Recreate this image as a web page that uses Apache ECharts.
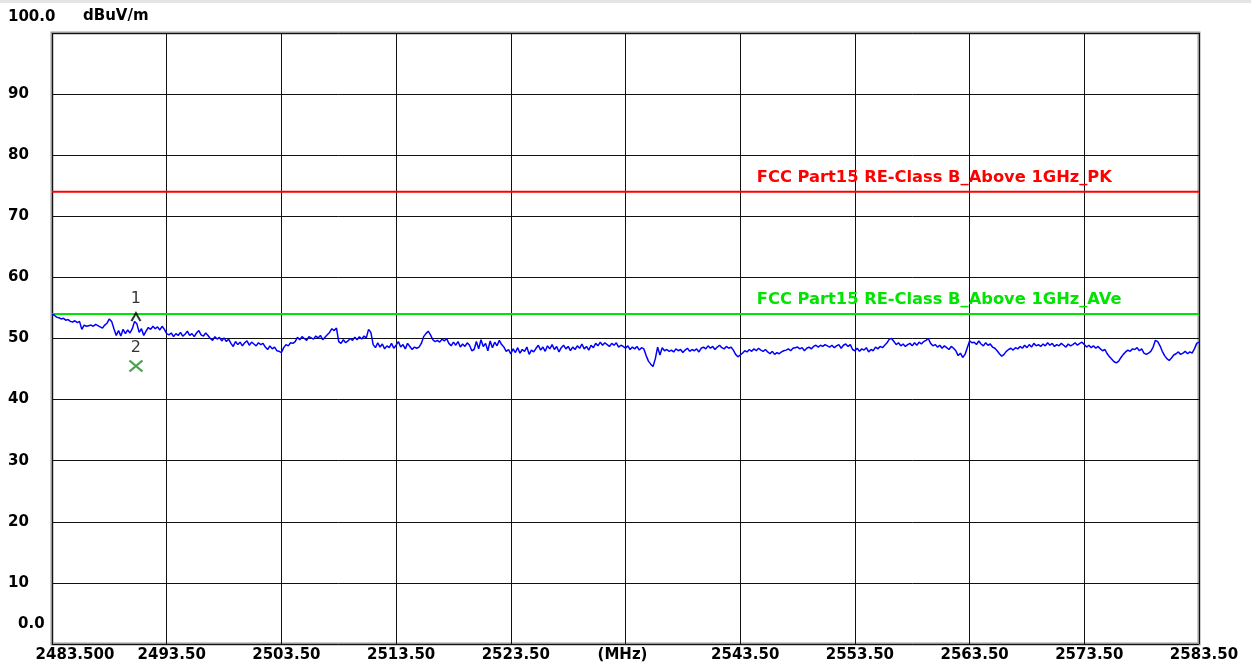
<!DOCTYPE html>
<html>
<head>
<meta charset="utf-8">
<script src="https://cdn.jsdelivr.net/npm/echarts@6/dist/echarts.min.js"></script>
<style>
  html, body { margin: 0; padding: 0; background: #ffffff; }
  #chart { width: 1251px; height: 668px; }
</style>
</head>
<body>
<div id="chart"></div>
<script>
// Sweep: 2483.5 MHz to 2583.5 MHz, one reading every 0.2 MHz (501 readings)
const FREQ_START = 2483.5;
const FREQ_STEP = 0.2;

// Measured field strength (dBuV/m), one value per sweep step
const traceLevels = [
  // 2483.5 - 2516.3 MHz
  54.0, 53.8, 53.5, 53.4, 53.2, 53.3, 53.0, 53.1, 52.8,
  52.7, 52.9, 52.6, 52.8, 51.5,
  52.2, 52.0, 52.1, 52.2, 52.0, 52.3, 52.1, 51.9, 51.7, 52.2,
  52.5, 53.2, 52.8, 51.6, 50.5, 51.3, 50.4,
  51.5, 50.8, 51.4, 50.9, 51.6, 52.8, 52.4,
  51.0, 51.6, 50.5, 51.2,
  51.8, 51.5, 52.0, 51.6, 51.9, 51.4, 52.0, 51.5, 50.8,
  50.6, 50.9, 50.3, 50.8, 50.5, 51.0, 50.4, 50.7, 51.2, 50.5, 50.8, 50.3, 50.9, 51.3, 50.6, 50.4, 50.9, 50.5,
  50.0, 49.7, 50.3, 49.9, 50.2, 49.6, 50.1, 49.5, 49.9,
  49.2, 48.7, 49.5, 49.0, 49.4, 48.8, 49.3, 49.6, 48.9, 49.4, 49.1, 48.8, 49.3, 49.0, 49.2,
  48.6, 48.2, 48.8, 48.3, 48.6, 48.0, 47.9, 47.7,
  48.5, 49.0, 48.8, 49.3, 49.2, 49.5,
  50.2, 49.8, 50.3, 50.0, 49.7, 50.3, 50.1, 49.9, 50.4, 50.1, 50.5, 49.8, 50.2, 50.6, 51.0,
  51.6, 51.3, 51.7, 49.5, 49.2, 49.8, 49.3, 49.6,
  50.0, 49.7, 50.2, 49.8, 50.3, 49.9, 50.4, 50.1, 51.5, 51.0,
  49.0, 48.5, 49.3, 48.6, 49.1, 48.3, 48.8, 48.5,
  49.2, 48.4, 48.9, 49.5, 48.6, 49.0, 48.3, 49.2, 48.7, 48.2, 48.6,
  48.4, 48.6, 49.2, 50.3, 50.8, 51.2,
  // 2516.5 - 2549.5 MHz
  50.6, 49.8, 49.5, 49.7, 49.4, 49.9, 49.6, 50.0,
  49.2, 48.8, 49.4, 48.9, 49.5, 48.6, 49.1, 48.7, 49.3, 48.9,
  48.0, 48.2,
  49.5, 48.3, 49.8, 48.7, 49.2, 48.0, 49.6, 48.5, 49.4, 48.8, 49.7, 49.0,
  48.6, 47.9, 48.2,
  47.5, 48.3, 47.7, 48.5, 47.6, 48.2, 47.9, 48.6, 47.4, 48.1, 47.8, 48.4,
  48.9, 48.1, 48.6, 47.9, 48.8, 48.3, 49.0, 48.2, 48.7, 47.8, 48.5, 48.9, 48.3,
  48.7, 48.0, 48.6, 48.2, 48.8, 48.4, 49.1, 48.3, 48.7, 48.1, 48.9, 48.5,
  49.2, 48.8, 49.4, 48.9, 49.3, 49.0, 48.7, 49.2, 48.9, 49.3, 48.6, 48.9,
  48.7, 48.4, 48.8, 48.2, 48.6, 48.3, 48.7, 48.1, 48.5, 48.3,
  47.2, 46.3, 45.8, 45.4, 46.7, 48.6, 47.3, 48.5,
  48.0, 48.2, 47.9, 48.1, 47.8, 48.3, 48.0, 48.2, 47.7, 48.1, 48.4, 47.9, 48.2, 48.0, 48.3, 47.8, 48.4,
  48.6, 48.3, 48.8, 48.4, 48.7, 48.2, 48.6, 48.9, 48.5, 48.3, 48.7, 48.4, 48.6, 48.1,
  47.4, 47.0, 47.3,
  47.6, 48.0, 47.8, 48.2, 47.9, 48.3, 48.0, 48.4, 48.1, 47.9, 48.2,
  47.8, 47.5, 47.9, 47.4, 47.7, 47.5, 47.8, 48.0,
  48.1, 48.3, 48.0, 48.4, 48.5, 48.6, 48.3, 48.5, 48.0, 48.4, 48.6,
  // 2549.7 - 2583.5 MHz
  48.3, 48.7, 48.9, 48.6, 48.9, 48.7, 49.0, 48.8, 48.6, 48.9, 48.5, 48.8, 49.0, 48.4, 48.9, 49.1, 48.7, 49.0,
  48.2, 48.0, 48.4, 47.9, 48.3, 48.1, 48.5, 47.8, 48.2, 48.0, 48.6, 48.3, 48.7, 48.5, 48.9,
  49.3, 49.9, 50.0,
  49.5, 49.0, 49.3, 48.8, 49.1, 48.7, 49.0, 49.2, 48.8, 49.3, 48.9, 49.4, 49.1, 49.5,
  49.7, 50.0,
  49.2, 48.8, 49.0, 48.6, 48.9, 48.4, 48.8, 48.5, 48.2, 48.7, 48.4, 48.0,
  47.2, 47.6, 46.9, 47.4, 48.5, 49.6, 49.3,
  49.4, 49.0, 49.6, 49.1, 48.8, 49.3, 48.9, 49.1, 48.6, 48.4, 48.0,
  47.5, 47.1, 47.4,
  47.9, 48.2, 48.4, 48.1, 48.5, 48.3, 48.7, 48.4, 48.9, 48.5, 49.0, 48.6, 49.2, 48.8, 49.0, 48.7,
  49.1, 48.8, 49.3, 48.9, 49.2, 48.7, 49.0, 48.8, 49.2, 48.9, 48.6, 49.1, 48.8, 49.0, 49.3, 48.9, 49.2, 49.4,
  49.0, 48.6, 48.9, 48.5, 48.8, 48.4, 48.7, 48.3, 48.0, 48.2,
  47.5, 47.0, 46.6, 46.2, 46.0, 46.3,
  46.9, 47.4, 47.8, 48.1, 47.9, 48.3, 48.2, 48.5, 48.0, 48.3, 47.6, 47.4, 47.6,
  47.9, 48.6, 49.7, 49.5, 48.8, 47.9,
  47.2, 46.7, 46.4, 46.8,
  47.3, 47.5, 47.8, 47.4, 47.6, 47.9, 47.5, 47.8, 47.6,
  48.3, 49.2, 49.4
];

// Limit lines (dBuV/m)
const limitNames = ['FCC Part15 RE-Class B_Above 1GHz_PK', 'FCC Part15 RE-Class B_Above 1GHz_AVe'];
const limitLevels = [74, 54];
const limitColors = ['#ff0000', '#00e400'];
const limitLabelFreq = 2544.95;

// Markers: 1 = peak reading, 2 = average reading
const markerIds = ['1', '2'];
const markerFreqs = [2490.82, 2490.82];
const markerLevels = [53.5, 45.5];

// Axis tick labels
const xTickLabels = ['2483.500', '2493.50', '2503.50', '2513.50', '2523.50', '(MHz)',
                     '2543.50', '2553.50', '2563.50', '2573.50', '2583.50'];
const yTickLabels = ['0.0', '10', '20', '30', '40', '50', '60', '70', '80', '90', '100.0'];

const FONT = 'DejaVu Sans';
const SPAN = 100; // MHz shown on the frequency axis

// The frequency axis runs as an offset from the start frequency
const tracePoints = traceLevels.map((v, i) => [i * FREQ_STEP, v]);

const chart = echarts.init(document.getElementById('chart'), null, { renderer: 'canvas' });

const limitSeries = limitLevels.map((lvl, k) => ({
  type: 'line',
  name: limitNames[k],
  data: [[0, lvl], [SPAN, lvl]],
  symbol: 'none',
  silent: true,
  lineStyle: { color: limitColors[k], width: 2 },
  z: 3,
  markPoint: {
    symbol: 'circle',
    symbolSize: 0,
    silent: true,
    data: [{ coord: [limitLabelFreq - FREQ_START, lvl] }],
    label: {
      show: true,
      position: 'right',
      distance: 0,
      offset: [0, -14],
      formatter: limitNames[k],
      color: limitColors[k],
      fontFamily: FONT,
      fontWeight: 'bold',
      fontSize: 16.3
    }
  }
}));

const option = {
  animation: false,
  backgroundColor: '#ffffff',
  graphic: [{
    type: 'rect',
    left: 0, top: 0,
    shape: { width: 1251, height: 3 },
    style: { fill: '#e4e4e4' },
    silent: true
  }],
  grid: {
    left: 52, right: 52, top: 33, bottom: 24,
    show: true,
    borderColor: '#9a9a9a',
    borderWidth: 3,
    backgroundColor: '#ffffff'
  },
  xAxis: {
    type: 'value',
    min: 0,
    max: SPAN,
    interval: 10,
    axisLine: { show: false },
    axisTick: { show: false },
    splitLine: { show: true, lineStyle: { color: '#111111', width: 1 } },
    axisLabel: {
      show: true,
      margin: 4,
      showMinLabel: true,
      showMaxLabel: true,
      hideOverlap: false,
      color: '#000000',
      fontFamily: FONT,
      fontWeight: 'bold',
      fontSize: 15,
      formatter: function (v) {
        const i = Math.round(v / 10);
        if (i === 0) return '{first|' + xTickLabels[i] + '}';
        if (i === 5) return '{unit|' + xTickLabels[i] + '}';
        return '{n|' + xTickLabels[i] + '}';
      },
      rich: {
        first: { padding: [0, 0, 0, 46], fontFamily: FONT, fontWeight: 'bold', fontSize: 15, color: '#000' },
        unit: { padding: [0, 6, 0, 0], fontFamily: FONT, fontWeight: 'bold', fontSize: 15, color: '#000' },
        n: { padding: [0, 0, 0, 10], fontFamily: FONT, fontWeight: 'bold', fontSize: 15, color: '#000' }
      }
    }
  },
  yAxis: {
    type: 'value',
    min: 0,
    max: 100,
    interval: 10,
    name: 'dBuV/m',
    nameLocation: 'end',
    nameGap: 9,
    nameTextStyle: {
      color: '#000000',
      fontFamily: FONT,
      fontWeight: 'bold',
      fontSize: 15,
      align: 'left',
      padding: [0, 0, 0, 31]
    },
    axisLine: { show: false },
    axisTick: { show: false },
    splitLine: { show: true, lineStyle: { color: '#111111', width: 1 } },
    axisLabel: {
      show: true,
      align: 'left',
      margin: 44,
      showMinLabel: true,
      showMaxLabel: true,
      color: '#000000',
      fontFamily: FONT,
      fontWeight: 'bold',
      fontSize: 15,
      formatter: function (v) {
        const i = Math.round(v / 10);
        if (i === 0) return '{bottom|' + yTickLabels[i] + '}';
        if (i === 10) return '{top|' + yTickLabels[i] + '}';
        return '{n|' + yTickLabels[i] + '}';
      },
      rich: {
        bottom: { padding: [0, 0, 40, 10], fontFamily: FONT, fontWeight: 'bold', fontSize: 15, color: '#000' },
        top: { padding: [0, 0, 32, 0], fontFamily: FONT, fontWeight: 'bold', fontSize: 15, color: '#000' },
        n: { fontFamily: FONT, fontWeight: 'bold', fontSize: 15, color: '#000' }
      }
    }
  },
  series: [
    ...limitSeries,
    {
      type: 'line',
      name: 'Trace',
      data: tracePoints,
      symbol: 'none',
      silent: true,
      lineStyle: { color: '#0000ff', width: 1.5 },
      z: 4
    },
    {
      type: 'scatter',
      name: 'Marker 1',
      data: [[markerFreqs[0] - FREQ_START, markerLevels[0]]],
      symbol: 'path://M0,10 L5,0 L10,10',
      symbolSize: [9, 8],
      itemStyle: { color: 'none', borderColor: '#000000', borderWidth: 2 },
      label: {
        show: true, position: 'top', distance: 4,
        formatter: markerIds[0],
        color: '#000000', fontFamily: FONT, fontSize: 16
      },
      z: 6
    },
    {
      type: 'scatter',
      name: 'Marker 2',
      data: [[markerFreqs[1] - FREQ_START, markerLevels[1]]],
      symbol: 'path://M0,0 L10,10 M10,0 L0,10',
      symbolSize: [13, 11],
      itemStyle: { color: 'none', borderColor: '#1f8a1f', borderWidth: 2 },
      label: {
        show: true, position: 'top', distance: 2,
        formatter: markerIds[1],
        color: '#000000', fontFamily: FONT, fontSize: 16
      },
      z: 6
    }
  ]
};

chart.setOption(option);
</script>
</body>
</html>
